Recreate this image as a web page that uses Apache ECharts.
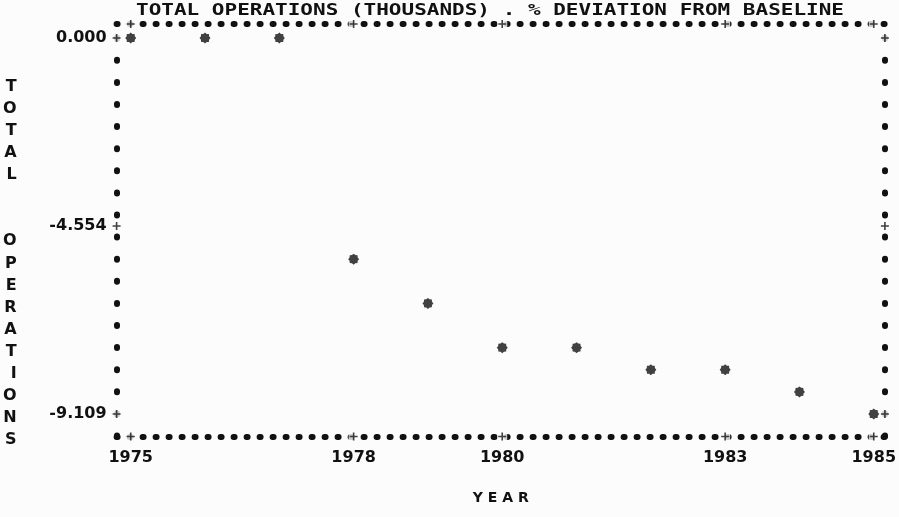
<!DOCTYPE html>
<html>
<head>
<meta charset="utf-8">
<script src="https://cdn.jsdelivr.net/npm/echarts@6/dist/echarts.min.js"></script>
<style>
  html, body { margin: 0; padding: 0; background: #fcfcfc; }
  #chart { width: 899px; height: 517px; }
</style>
</head>
<body>
<div id="chart"></div>
<script>
// Total operations, % deviation from baseline, by year
const years = [1975, 1976, 1977, 1978, 1979, 1980, 1981, 1982, 1983, 1984, 1985];
const deviation = [0, 0, 0, -5.358, -6.430, -7.502, -7.502, -8.037, -8.037, -8.573, -9.109];

// Tick marks printed on the frame
const yearTicks = [1975, 1978, 1980, 1983, 1985];
const valueTicks = [0, -4.554, -9.109];

const titleText = 'TOTAL OPERATIONS (THOUSANDS) . % DEVIATION FROM BASELINE';
// vertical axis caption, one character per printed line (three blank lines lead in)
const yName = [' ', ' ', ' ', 'T', 'O', 'T', 'A', 'L', ' ', ' ', 'O', 'P', 'E', 'R', 'A', 'T', 'I', 'O', 'N', 'S'];
const xName = 'Y E A R';

const INK = '#111111';
const PAPER = '#fcfcfc';
const MONO = '"DejaVu Sans Mono", monospace';
const SANS = '"DejaVu Sans", sans-serif';

// printer-style asterisk: a fat eight-pointed star
function starPath() {
  let d = '';
  for (let i = 0; i < 16; i++) {
    const a = Math.PI * i / 8 - Math.PI / 2;
    const r = i % 2 === 0 ? 10 : 8;
    const x = (10 + r * Math.cos(a)).toFixed(2);
    const y = (10 + r * Math.sin(a)).toFixed(2);
    d += (i === 0 ? 'M' : 'L') + x + ',' + y;
  }
  return 'path://' + d + 'Z';
}
const PLUS = 'path://M4,0H6V4H10V6H6V10H4V6H0V4H4Z';

// frame sits a little outside the plotted range, as on the printout
const X_MIN = 1974.81, X_MAX = 1985.15;
const Y_MIN = -9.654, Y_MAX = 0.339;

// '+' marks sit on the frame where the ticks are
const tickMarks = [];
yearTicks.forEach(y => { tickMarks.push([y, Y_MAX]); tickMarks.push([y, Y_MIN]); });
valueTicks.forEach(v => { tickMarks.push([X_MIN, v]); tickMarks.push([X_MAX, v]); });

const frameH = { type: [1, 12], width: 6, cap: 'round', color: INK };
const frameV = { type: [1, 21.1], width: 6, cap: 'round', color: INK };

const labelFont = { fontFamily: SANS, fontWeight: 'bold', fontSize: 16, color: INK };

const chart = echarts.init(document.getElementById('chart'), null, { renderer: 'canvas' });

chart.setOption({
  backgroundColor: PAPER,
  animation: false,
  textStyle: { fontFamily: SANS, color: INK },
  graphic: [{
    type: 'text',
    x: 490,
    y: 11,
    scaleX: 1.4,
    style: {
      text: titleText,
      font: 'bold 15px ' + MONO,
      fill: INK,
      align: 'center',
      verticalAlign: 'middle'
    }
  }],
  grid: { left: 115, right: 10, top: 24, bottom: 80.5, containLabel: false },
  xAxis: [{
    type: 'value', position: 'bottom', min: X_MIN, max: X_MAX,
    name: xName, nameLocation: 'middle', nameGap: 55,
    nameTextStyle: { fontFamily: SANS, fontWeight: 'bold', fontSize: 14, color: INK },
    axisLine: { show: true, onZero: false, lineStyle: frameH },
    axisTick: { show: false },
    splitLine: { show: false },
    axisLabel: Object.assign({
      customValues: yearTicks, margin: 13,
      formatter: v => String(Math.round(v))
    }, labelFont)
  }, {
    type: 'value', position: 'top', min: X_MIN, max: X_MAX,
    axisLine: { show: true, onZero: false, lineStyle: frameH },
    axisTick: { show: false }, splitLine: { show: false }, axisLabel: { show: false }
  }],
  yAxis: [{
    type: 'value', position: 'left', min: Y_MIN, max: Y_MAX,
    name: yName.join('\n'), nameLocation: 'middle', nameRotate: 0, nameGap: 100,
    nameTextStyle: {
      fontFamily: SANS, fontWeight: 'bold', fontSize: 16, color: INK,
      lineHeight: 22.1
    },
    axisLine: { show: true, onZero: false, lineStyle: frameV },
    axisTick: { show: false },
    splitLine: { show: false },
    axisLabel: Object.assign({
      customValues: valueTicks, margin: 10,
      formatter: v => v.toFixed(3)
    }, labelFont)
  }, {
    type: 'value', position: 'right', min: Y_MIN, max: Y_MAX,
    axisLine: { show: true, onZero: false, lineStyle: frameV },
    axisTick: { show: false }, splitLine: { show: false }, axisLabel: { show: false }
  }],
  series: [{
    name: 'tickGap', type: 'scatter', clip: false, silent: true,
    symbol: 'rect', symbolSize: 10,
    itemStyle: { color: PAPER },
    data: tickMarks, z: 3
  }, {
    name: 'ticks', type: 'scatter', clip: false, silent: true,
    symbol: PLUS, symbolSize: 8,
    itemStyle: { color: INK },
    data: tickMarks, z: 4
  }, {
    name: 'TOTAL OPERATIONS', type: 'scatter', clip: false,
    symbol: starPath(), symbolSize: 11,
    itemStyle: { color: INK },
    data: years.map((y, i) => [y, deviation[i]]), z: 5
  }]
});
</script>
</body>
</html>
